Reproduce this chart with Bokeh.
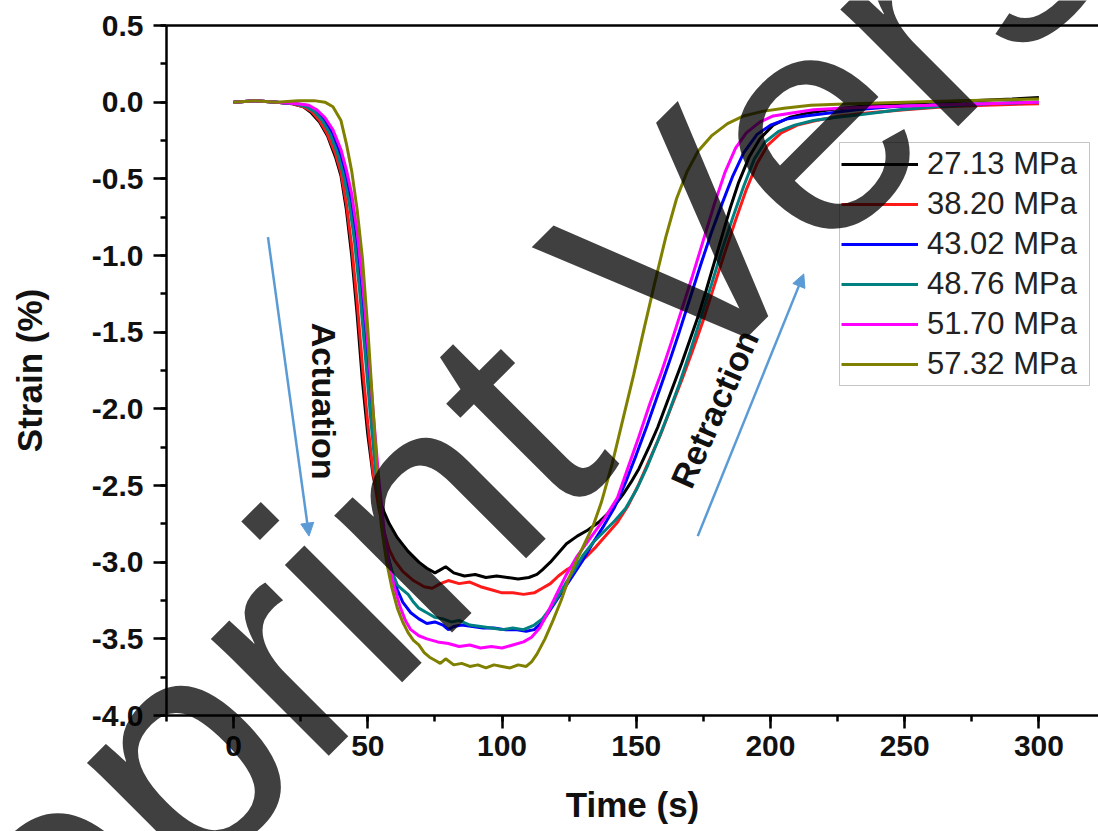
import math
from bokeh.plotting import figure
from bokeh.models import (Range1d, LinearAxis, SingleIntervalTicker, FixedTicker, PrintfTickFormatter,
                          Legend, LegendItem, Label, Arrow, NormalHead)
from bokeh.embed import file_html
from bokeh.resources import INLINE

# ---------------- data (time s, strain %) ----------------
labels = ["27.13 MPa", "38.20 MPa", "43.02 MPa", "48.76 MPa", "51.70 MPa", "57.32 MPa"]
colors = ["#000000", "#ff1a1a", "#0000ff", "#008080", "#ff00ff", "#808000"]

black_27 = [(0,0.00),(8,0.01),(16,0.00),(22,-0.01),(26,-0.03),(29,-0.07),(32,-0.13),(35,-0.22),(38,-0.36),
            (40,-0.48),(42,-0.70),(44,-1.00),(46,-1.38),(48,-1.82),(50,-2.17),(52,-2.44),(54,-2.58),(56,-2.67),
            (58,-2.75),(61,-2.84),(65,-2.93),(69,-3.00),(72,-3.04),(75,-3.07),(77,-3.05),(79,-3.03),(82,-3.07),
            (86,-3.09),(90,-3.08),(94,-3.10),(98,-3.09),(102,-3.10),(106,-3.11),(110,-3.10),(113,-3.08),(115,-3.05),
            (118,-3.00),(121,-2.94),(124,-2.88),(128,-2.83),(132,-2.79),(136,-2.74),(139,-2.69),(142,-2.63),
            (145,-2.56),(148,-2.48),(151,-2.39),(155,-2.24),(158,-2.12),(161,-1.98),(164,-1.84),(167,-1.70),
            (170,-1.55),(173,-1.40),(176,-1.23),(179,-1.05),(182,-0.87),(185,-0.69),(188,-0.53),(192,-0.36),
            (196,-0.24),(201,-0.15),(207,-0.10),(214,-0.07),(222,-0.05),(232,-0.03),(245,-0.01),(260,0.00),
            (275,0.01),(290,0.02),(300,0.03)]

red_38 = [(0,0.00),(8,0.01),(16,0.00),(22,-0.01),(26,-0.03),(29,-0.06),(32,-0.12),(35,-0.21),(38,-0.34),
          (40,-0.46),(42,-0.66),(44,-0.94),(46,-1.30),(48,-1.72),(50,-2.10),(52,-2.42),(54,-2.64),(56,-2.80),
          (58,-2.92),(60,-2.99),(63,-3.06),(67,-3.12),(71,-3.16),(74,-3.17),(77,-3.14),(80,-3.12),(84,-3.14),
          (88,-3.13),(92,-3.16),(96,-3.18),(100,-3.20),(104,-3.20),(108,-3.21),(112,-3.20),(115,-3.17),
          (118,-3.14),(121,-3.09),(124,-3.05),(127,-3.02),(131,-2.97),(135,-2.90),(139,-2.82),(143,-2.74),
          (147,-2.63),(151,-2.49),(155,-2.33),(159,-2.17),(163,-1.99),(167,-1.81),(171,-1.62),(175,-1.42),
          (179,-1.20),(183,-0.98),(187,-0.77),(191,-0.57),(195,-0.40),(199,-0.28),(204,-0.20),(210,-0.15),
          (217,-0.12),(226,-0.09),(236,-0.07),(250,-0.05),(265,-0.03),(280,-0.02),(300,-0.01)]

blue_43 = [(0,0.00),(8,0.01),(16,0.00),(23,-0.01),(27,-0.02),(30,-0.05),(33,-0.10),(36,-0.18),(39,-0.30),
           (41,-0.42),(43,-0.58),(45,-0.82),(47,-1.15),(49,-1.55),(51,-1.98),(53,-2.38),(55,-2.70),(57,-2.92),
           (59,-3.07),(61,-3.18),(63,-3.26),(66,-3.33),(69,-3.37),(72,-3.40),(75,-3.39),(78,-3.41),(80,-3.44),
           (82,-3.42),(85,-3.41),(89,-3.42),(93,-3.43),(97,-3.43),(101,-3.44),(105,-3.44),(109,-3.45),
           (112,-3.44),(115,-3.39),(118,-3.31),(121,-3.23),(124,-3.15),(127,-3.07),(130,-2.99),(134,-2.87),
           (138,-2.76),(142,-2.64),(146,-2.48),(150,-2.30),(154,-2.11),(158,-1.91),(162,-1.71),(166,-1.50),
           (170,-1.28),(174,-1.06),(178,-0.85),(182,-0.66),(186,-0.48),(190,-0.33),(195,-0.21),(200,-0.15),
           (206,-0.11),(213,-0.09),(222,-0.07),(232,-0.05),(245,-0.03),(260,-0.02),(280,-0.01),(300,0.00)]

teal_48 = [(0,0.00),(8,0.01),(16,0.00),(23,-0.01),(27,-0.03),(30,-0.06),(33,-0.12),(36,-0.21),(39,-0.35),
           (41,-0.48),(43,-0.65),(45,-0.90),(47,-1.24),(49,-1.64),(51,-2.05),(53,-2.42),(55,-2.72),(57,-2.93),
           (59,-3.06),(61,-3.15),(63,-3.18),(65,-3.21),(67,-3.26),(69,-3.30),(72,-3.33),(75,-3.36),(78,-3.37),
           (81,-3.39),(84,-3.38),(88,-3.41),(92,-3.42),(96,-3.43),(100,-3.44),(104,-3.43),(108,-3.44),
           (112,-3.41),(115,-3.37),(118,-3.30),(121,-3.22),(124,-3.13),(127,-3.05),(130,-2.96),(134,-2.87),
           (138,-2.80),(142,-2.73),(146,-2.65),(150,-2.53),(154,-2.38),(158,-2.21),(162,-2.03),(166,-1.84),
           (170,-1.63),(174,-1.41),(178,-1.19),(182,-0.96),(186,-0.75),(190,-0.55),(194,-0.37),(198,-0.26),
           (203,-0.19),(209,-0.15),(216,-0.12),(224,-0.10),(234,-0.08),(248,-0.05),(262,-0.03),(280,-0.01),
           (300,0.00)]

magenta_51 = [(0,0.00),(8,0.01),(16,0.00),(24,-0.01),(28,-0.02),(31,-0.05),(34,-0.10),(37,-0.18),(40,-0.31),
              (42,-0.44),(44,-0.60),(46,-0.84),(48,-1.17),(50,-1.58),(52,-2.02),(54,-2.44),(56,-2.78),
              (58,-3.02),(60,-3.17),(62,-3.29),(64,-3.38),(66,-3.44),(69,-3.48),(72,-3.50),(76,-3.52),
              (80,-3.53),(84,-3.55),(88,-3.54),(92,-3.56),(96,-3.55),(100,-3.56),(104,-3.54),(108,-3.52),
              (111,-3.49),(114,-3.43),(117,-3.33),(120,-3.22),(124,-3.08),(128,-2.96),(133,-2.84),(138,-2.72),
              (143,-2.58),(147,-2.38),(151,-2.18),(155,-1.97),(159,-1.78),(163,-1.57),(167,-1.35),(171,-1.13),
              (175,-0.90),(179,-0.67),(183,-0.46),(187,-0.30),(191,-0.20),(196,-0.13),(201,-0.09),(208,-0.07),
              (216,-0.05),(226,-0.04),(240,-0.03),(260,-0.02),(280,-0.01),(300,0.00)]

olive_57 = [(0,0.00),(8,0.01),(16,0.00),(24,0.01),(30,0.01),(34,0.00),(37,-0.03),(40,-0.12),(42,-0.27),
            (44,-0.45),(46,-0.70),(48,-1.02),(50,-1.48),(52,-2.02),(54,-2.54),(55,-2.76),(57,-3.00),(59,-3.17),
            (61,-3.30),(63,-3.39),(65,-3.46),(67,-3.51),(69,-3.54),(71,-3.59),(73,-3.62),(75,-3.64),(77,-3.66),
            (79,-3.63),(82,-3.67),(85,-3.66),(88,-3.68),(91,-3.67),(94,-3.69),(97,-3.67),(100,-3.68),(103,-3.69),
            (106,-3.67),(109,-3.68),(111,-3.65),(113,-3.60),(116,-3.50),(119,-3.38),(122,-3.25),(125,-3.10),
            (128,-2.98),(131,-2.87),(134,-2.76),(137,-2.61),(141,-2.36),(145,-2.07),(149,-1.78),(153,-1.47),
            (157,-1.17),(161,-0.88),(165,-0.63),(169,-0.45),(173,-0.32),(178,-0.22),(184,-0.14),(190,-0.09),
            (197,-0.06),(205,-0.04),(215,-0.02),(230,-0.01),(250,0.00),(270,0.01),(300,0.02)]

series = [black_27, red_38, blue_43, teal_48, magenta_51, olive_57]

FONT = "Liberation Sans"
ARROW_COLOR = "#5b9bd5"
W, H = 1098, 831

p = figure(width=W, height=H, x_range=Range1d(-25, 322.2), y_range=Range1d(-4.0, 0.5),
           output_backend="svg", toolbar_location=None,
           min_border_left=166, min_border_right=0, min_border_top=25, min_border_bottom=116)
p.xgrid.visible = False
p.ygrid.visible = False
p.outline_line_color = None
p.background_fill_color = "white"
p.border_fill_color = "white"

xax = p.below[0]
yax = p.left[0]

for ax, interval in ((xax, 50), (yax, 0.5)):
    ax.ticker = SingleIntervalTicker(interval=interval, num_minor_ticks=2)
    ax.axis_line_width = 2.5
    ax.major_tick_line_width = 2.5
    ax.minor_tick_line_width = 2.5
    ax.major_tick_in = 0
    ax.minor_tick_in = 0
    ax.major_tick_out = 13
    ax.minor_tick_out = 6
    ax.major_label_text_font = FONT
    ax.major_label_text_font_style = "bold"
    ax.major_label_text_font_size = "30px"
    ax.major_label_text_color = "#111111"
    ax.axis_label_text_font = FONT
    ax.axis_label_text_font_style = "bold"
    ax.axis_label_text_font_size = "35px"
    ax.axis_label_text_color = "#111111"

xax.axis_label = "Time (s)"
xax.major_label_standoff = 7
xax.axis_label_standoff = 26
yax.axis_label = "Strain (%)"
yax.formatter = PrintfTickFormatter(format="%.1f")
yax.major_label_standoff = 10
yax.axis_label_standoff = 40

# top frame line (no ticks, no labels)
top = LinearAxis(ticker=FixedTicker(ticks=[]), major_tick_out=0, major_tick_in=0,
                 minor_tick_out=0, minor_tick_in=0, major_label_standoff=0,
                 axis_line_width=2.5, axis_line_color="black")
p.add_layout(top, "above")

renderers = []
for data, c in zip(series, colors):
    t = [d[0] for d in data]
    s = [d[1] for d in data]
    renderers.append(p.line(t, s, line_color=c, line_width=3))

legend = Legend(items=[LegendItem(label=l, renderers=[r]) for l, r in zip(labels, renderers)],
                location=(673, 329), label_text_font=FONT, label_text_font_size="31px",
                label_text_color="#222222", glyph_width=77, glyph_height=40, label_height=40,
                label_width=161, label_standoff=9, spacing=0, padding=1, margin=0,
                border_line_color="#8c8c8c", border_line_width=1.5,
                background_fill_color="white", background_fill_alpha=1.0)
p.add_layout(legend)

# annotations
p.add_layout(Arrow(end=NormalHead(size=13, fill_color=ARROW_COLOR, line_color=ARROW_COLOR),
                   x_start=12.8, y_start=-0.88, x_end=28.1, y_end=-2.83,
                   line_color=ARROW_COLOR, line_width=2.5))
p.add_layout(Arrow(end=NormalHead(size=13, fill_color=ARROW_COLOR, line_color=ARROW_COLOR),
                   x_start=172.9, y_start=-2.83, x_end=212.4, y_end=-1.12,
                   line_color=ARROW_COLOR, line_width=2.5))
p.add_layout(Label(x=33.6, y=-1.95, text="Actuation", angle=-math.pi / 2,
                   text_align="center", text_baseline="middle", text_font=FONT,
                   text_font_style="bold", text_font_size="34px", text_color="#111111"))
p.add_layout(Label(x=179.2, y=-2.0, text="Retraction", angle=math.radians(66),
                   text_align="center", text_baseline="middle", text_font=FONT,
                   text_font_style="bold", text_font_size="34px", text_color="#111111"))

# transparent full-canvas layer laid over the chart, carrying the watermark
wm = figure(width=W, height=H, x_range=Range1d(0, W), y_range=Range1d(0, H),
            output_backend="svg", toolbar_location=None, x_axis_location=None, y_axis_location=None,
            min_border=0, min_border_left=0, min_border_right=0, min_border_top=0, min_border_bottom=0)
wm.xgrid.visible = False
wm.ygrid.visible = False
wm.outline_line_color = None
wm.background_fill_color = None
wm.border_fill_color = None
wm.styles = {"position": "absolute", "left": "0px", "top": "0px", "pointer-events": "none"}
wm.add_layout(Label(x=557, y=H - 373, text="Preprint Version", angle=math.pi / 4,
                    text_align="center", text_baseline="alphabetic", text_font=FONT,
                    text_font_size="314px", text_color="black", text_alpha=0.75))

open("out.html", "w").write(file_html([p, wm], INLINE))
